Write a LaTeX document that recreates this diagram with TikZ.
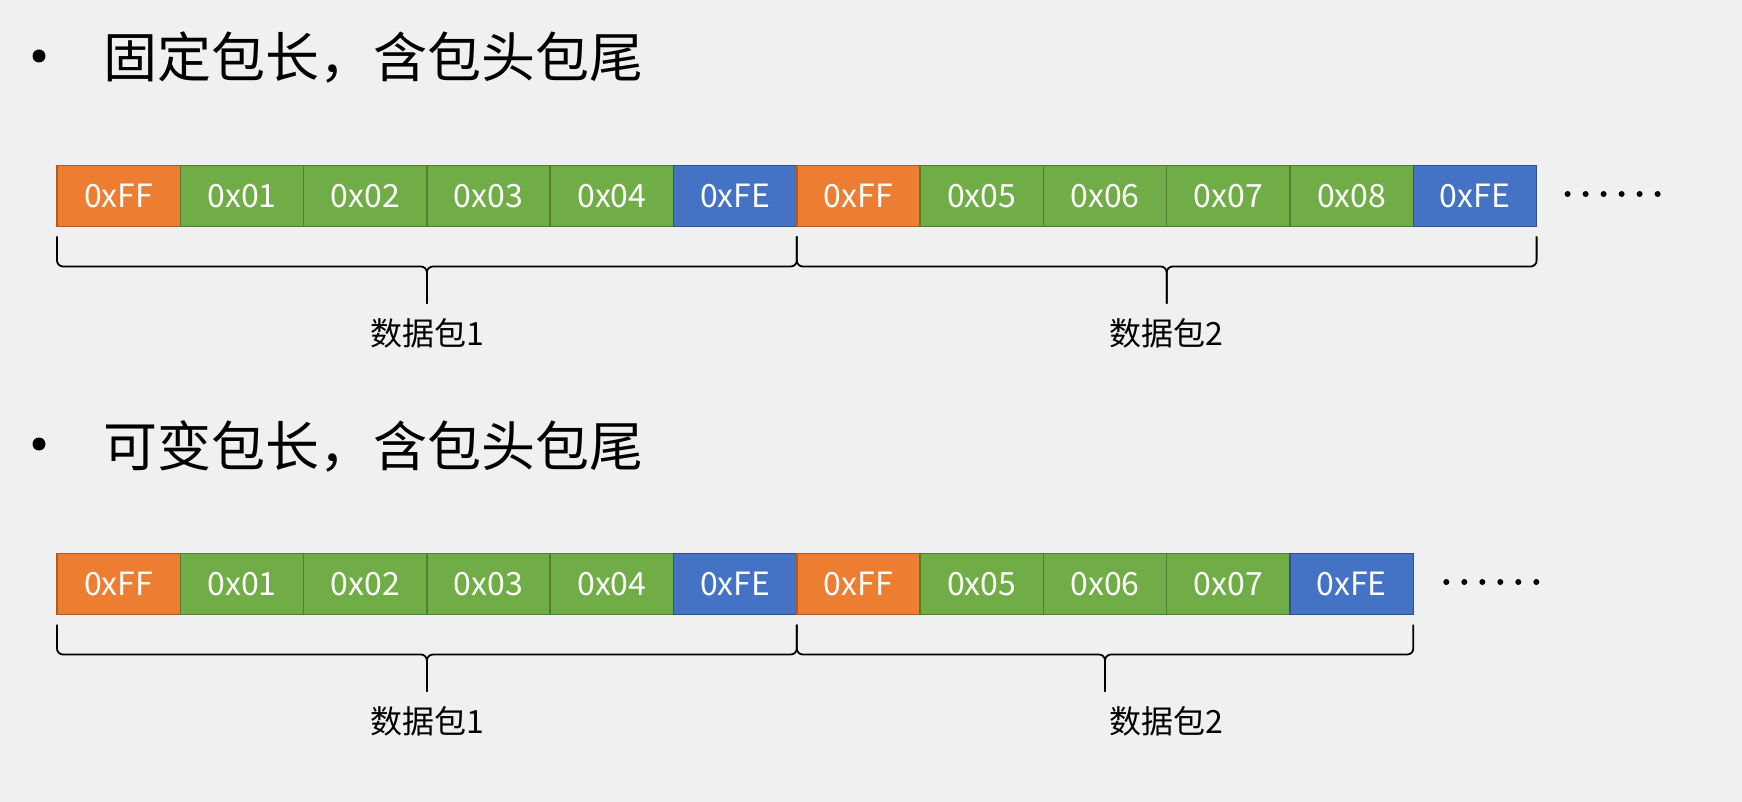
\documentclass[tikz,border=0pt]{standalone}
\usepackage{fontspec}
\setmainfont{Noto Sans CJK SC}
\usetikzlibrary{calc}
\definecolor{bgc}{HTML}{F0F0F0}
\definecolor{hdfill}{HTML}{ED7D31}
\definecolor{hdline}{HTML}{AE5A21}
\definecolor{dtfill}{HTML}{70AD47}
\definecolor{dtline}{HTML}{507E32}
\definecolor{tlfill}{HTML}{4472C4}
\definecolor{tlline}{HTML}{2F528F}
\tikzset{
  cell/.style={draw, line width=1.5pt, minimum width=123.3pt, minimum height=61pt,
    inner sep=0pt, outer sep=0pt, text=white, font=\fontsize{32}{36}\selectfont},
  hd/.style={cell, fill=hdfill, draw=hdline},
  dt/.style={cell, fill=dtfill, draw=dtline},
  tl/.style={cell, fill=tlfill, draw=tlline},
  brc/.style={draw=black, line width=1.8pt, rounded corners=6pt},
  lbl/.style={inner sep=0pt, font=\fontsize{32}{36}\selectfont, text=black},
  ttl/.style={inner sep=0pt, anchor=west, font=\fontsize{54}{60}\selectfont, text=black},
}
\newcommand{\pkbrace}[3]{%
  \coordinate (L#3) at ($(#1.south west)+(0,10)$);
  \coordinate (R#3) at ($(#2.south east)+(0,10)$);
  \coordinate (M#3) at ($(L#3)!0.5!(R#3)$);
  \draw[brc] (L#3) -- ($(L#3)+(0,30)$) -- ($(M#3)+(0,30)$) -- ($(M#3)+(0,67)$);
  \draw[brc] (R#3) -- ($(R#3)+(0,30)$) -- ($(M#3)+(0,30)$) -- ($(M#3)+(0,67)$);
}
\begin{document}
\begin{tikzpicture}[x=1pt,y=-1pt]
\fill[bgc] (0,0) rectangle (1742,802);
\useasboundingbox (0,0) rectangle (1742,802);

% titles
\fill (39,56) circle (6.5pt);
\node[ttl] (t1) at (103,58) {固定包长，含包头包尾};
\fill (39,444) circle (6.5pt);
\node[ttl] (t2) at (103,446) {可变包长，含包头包尾};

% row 1
\foreach \sty/\lab [count=\i] in {hd/FF,dt/01,dt/02,dt/03,dt/04,tl/FE,hd/FF,dt/05,dt/06,dt/07,dt/08,tl/FE}
  \node[\sty] (r1c\i) at ({57+123.3*(\i-0.5)},196) {0x\lab};
\foreach \k in {0,...,5}
  \fill ($(r1c12.east)+(31+18*\k,-2)$) circle (3pt);
\pkbrace{r1c1}{r1c6}{a}
\pkbrace{r1c7}{r1c12}{b}
\node[lbl] (p1a) at ($(Ma)+(0,97)$) {数据包1};
\node[lbl] (p2a) at ($(Mb)+(0,97)$) {数据包2};

% row 2
\foreach \sty/\lab [count=\i] in {hd/FF,dt/01,dt/02,dt/03,dt/04,tl/FE,hd/FF,dt/05,dt/06,dt/07,tl/FE}
  \node[\sty] (r2c\i) at ({57+123.3*(\i-0.5)},584) {0x\lab};
\foreach \k in {0,...,5}
  \fill ($(r2c11.east)+(33+18*\k,-2)$) circle (3pt);
\pkbrace{r2c1}{r2c6}{c}
\pkbrace{r2c7}{r2c11}{d}
\node[lbl] (p1b) at ($(Mc)+(0,97)$) {数据包1};
\node[lbl] (p2b) at (p2a |- p1b) {数据包2};
\end{tikzpicture}
\end{document}
